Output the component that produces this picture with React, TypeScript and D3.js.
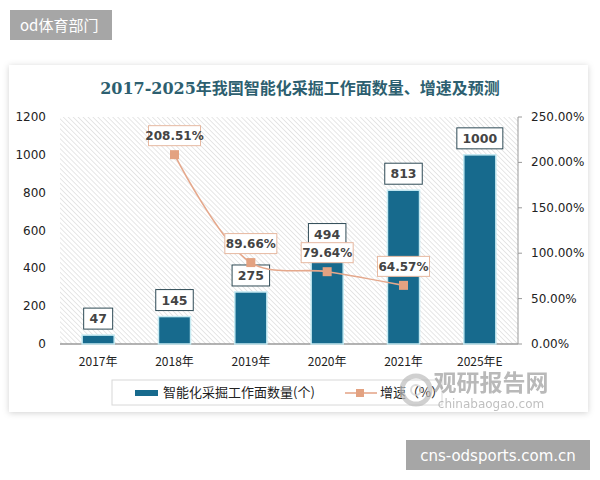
import React from "react";
import * as d3 from "d3";

const years = ["2017年", "2018年", "2019年", "2020年", "2021年", "2025年E"];
const faces = [47, 145, 275, 494, 813, 1000];
const growthYears = ["2018年", "2019年", "2020年", "2021年"];
const growth = [208.51, 89.66, 79.64, 64.57];
const leftTicks = [0, 200, 400, 600, 800, 1000, 1200];
const rightTicks = [0, 50, 100, 150, 200, 250];

const W = 600;
const H = 480;
const plot = { left: 60, right: 518, top: 117, bottom: 344 };
const numFont = "'DejaVu Sans', Verdana, sans-serif";
const cjkFont = "'Noto Sans CJK SC', 'Noto Sans', sans-serif";

export default function App() {
  const x = d3
    .scaleBand<string>()
    .domain(years)
    .range([plot.left, plot.right])
    .paddingInner(0.58)
    .paddingOuter(0.29);
  const yL = d3.scaleLinear().domain([0, 1200]).range([plot.bottom, plot.top]);
  const yR = d3.scaleLinear().domain([0, 250]).range([plot.bottom, plot.top]);
  const cx = (d: string) => (x(d) ?? 0) + x.bandwidth() / 2;

  const line = d3
    .line<number>()
    .x((_, i) => cx(growthYears[i]))
    .y((d) => yR(d))
    .curve(d3.curveCatmullRom.alpha(0.5));

  return (
    <svg
      width={W}
      height={H}
      style={{ position: "fixed", left: 0, top: 0, background: "#fff" }}
    >
      <defs>
        <pattern
          id="hatch"
          width="3.5"
          height="3.5"
          patternUnits="userSpaceOnUse"
          patternTransform="rotate(-45)"
        >
          <line x1="0" y1="0" x2="0" y2="3.5" stroke="#d2d2d2" strokeWidth="1.1" />
        </pattern>
        <filter id="shadow" x="-5%" y="-5%" width="110%" height="115%">
          <feDropShadow dx="0" dy="1" stdDeviation="3" floodColor="#000" floodOpacity="0.18" />
        </filter>
      </defs>

      {/* top-left tag */}
      <rect x={10} y={10} width={102} height={30} fill="#a6a6a6" />
      <text x={20} y={31} fill="#fff" fontSize={15} fontFamily={cjkFont}>
        od体育部门
      </text>

      {/* card */}
      <rect x={9} y={65} width={579} height={347} fill="#fff" filter="url(#shadow)" />

      {/* title */}
      <text
        x={300}
        y={94}
        textAnchor="middle"
        fill="#2d5f70"
        fontSize={16}
        fontWeight="bold"
        fontFamily="'DejaVu Serif', 'Noto Sans CJK SC', serif"
      >
        2017-2025年我国智能化采掘工作面数量、增速及预测
      </text>

      {/* plot background */}
      <rect
        x={plot.left}
        y={plot.top}
        width={plot.right - plot.left}
        height={plot.bottom - plot.top}
        fill="url(#hatch)"
      />

      {/* left axis labels */}
      {leftTicks.map((t) => (
        <text
          key={t}
          x={46}
          y={yL(t) + 4}
          textAnchor="end"
          fontSize={12}
          fill="#222"
          fontFamily={numFont}
        >
          {t}
        </text>
      ))}

      {/* right axis */}
      <line x1={plot.right} x2={plot.right} y1={plot.top} y2={plot.bottom} stroke="#9a9a9a" />
      {rightTicks.map((t) => (
        <g key={t}>
          <line x1={plot.right} x2={plot.right + 4} y1={yR(t)} y2={yR(t)} stroke="#9a9a9a" />
          <text x={531} y={yR(t) + 4} fontSize={12} fill="#222" fontFamily={numFont}>
            {t.toFixed(2)}%
          </text>
        </g>
      ))}

      {/* baseline */}
      <line x1={plot.left} x2={plot.right} y1={plot.bottom} y2={plot.bottom} stroke="#9a9a9a" strokeWidth={1.5} />

      {/* bars */}
      {faces.map((v, i) => (
        <rect
          key={years[i]}
          x={x(years[i])}
          y={yL(v)}
          width={x.bandwidth()}
          height={plot.bottom - yL(v)}
          fill="#176a8d"
          stroke="#c6eaf2"
          strokeWidth={1.5}
        />
      ))}

      {/* bar labels */}
      {faces.map((v, i) => {
        const label = String(v);
        const w = label.length * 8.5 + 12;
        return (
          <g key={"bl" + i}>
            <rect
              x={cx(years[i]) - w / 2}
              y={yL(v) - 27}
              width={w}
              height={21}
              fill="#fff"
              stroke="#2e4a55"
              strokeWidth={1}
            />
            <text
              x={cx(years[i])}
              y={yL(v) - 12}
              textAnchor="middle"
              fontSize={12.5}
              fontWeight="bold"
              fill="#444"
              fontFamily={numFont}
            >
              {label}
            </text>
          </g>
        );
      })}

      {/* growth line */}
      <path d={line(growth) ?? ""} fill="none" stroke="#e5a88c" strokeWidth={1.6} />
      {growth.map((g, i) => (
        <rect
          key={"m" + i}
          x={cx(growthYears[i]) - 4.5}
          y={yR(g) - 4.5}
          width={9}
          height={9}
          fill="#e3a281"
        />
      ))}
      {growth.map((g, i) => {
        const label = g.toFixed(2) + "%";
        const w = 52;
        return (
          <g key={"gl" + i}>
            <rect
              x={cx(growthYears[i]) - w / 2}
              y={yR(g) - 29}
              width={w}
              height={20}
              fill="#fff"
              stroke="#e6b8a0"
              strokeWidth={1}
            />
            <text
              x={cx(growthYears[i])}
              y={yR(g) - 14.5}
              textAnchor="middle"
              fontSize={12}
              fontWeight="bold"
              fill="#444"
              fontFamily={numFont}
            >
              {label}
            </text>
          </g>
        );
      })}

      {/* x labels */}
      {years.map((y) => (
        <text
          key={y}
          x={cx(y)}
          y={366}
          textAnchor="middle"
          fontSize={12}
          fill="#222"
          fontFamily={cjkFont}
        >
          {y}
        </text>
      ))}

      {/* legend */}
      <rect x={112} y={380} width={330} height={25} fill="#fff" stroke="#d8d8d8" />
      <rect x={135} y={390} width={23} height={6} fill="#176a8d" />
      <text x={163} y={397} fontSize={13} fill="#222" fontFamily={cjkFont}>
        智能化采掘工作面数量(个)
      </text>
      <line x1={345} x2={377} y1={393} y2={393} stroke="#e5a88c" strokeWidth={1.6} />
      <rect x={356} y={389} width={8} height={8} fill="#e3a281" />
      <text x={380} y={397} fontSize={13} fill="#222" fontFamily={cjkFont}>
        增速（%）
      </text>

      {/* watermark */}
      <g opacity={0.7}>
        <circle cx={416} cy={390} r={14} fill="none" stroke="#bdbdbd" strokeWidth={5} />
        <circle cx={416} cy={390} r={5} fill="none" stroke="#cfcfcf" strokeWidth={2} />
        <text
          x={491}
          y={391}
          textAnchor="middle"
          fontSize={23}
          fontWeight="bold"
          fill="#9c9c9c"
          fontFamily={cjkFont}
        >
          观研报告网
        </text>
        <text x={491} y={408} textAnchor="middle" fontSize={12} fill="#a5a5a5" fontFamily={numFont}>
          chinabaogao.com
        </text>
      </g>

      {/* bottom-right tag */}
      <rect x={406} y={440} width={184} height={30} fill="#a6a6a6" />
      <text x={498} y={461} textAnchor="middle" fill="#fff" fontSize={15} fontFamily="'DejaVu Sans', sans-serif">
        cns-odsports.com.cn
      </text>
    </svg>
  );
}
